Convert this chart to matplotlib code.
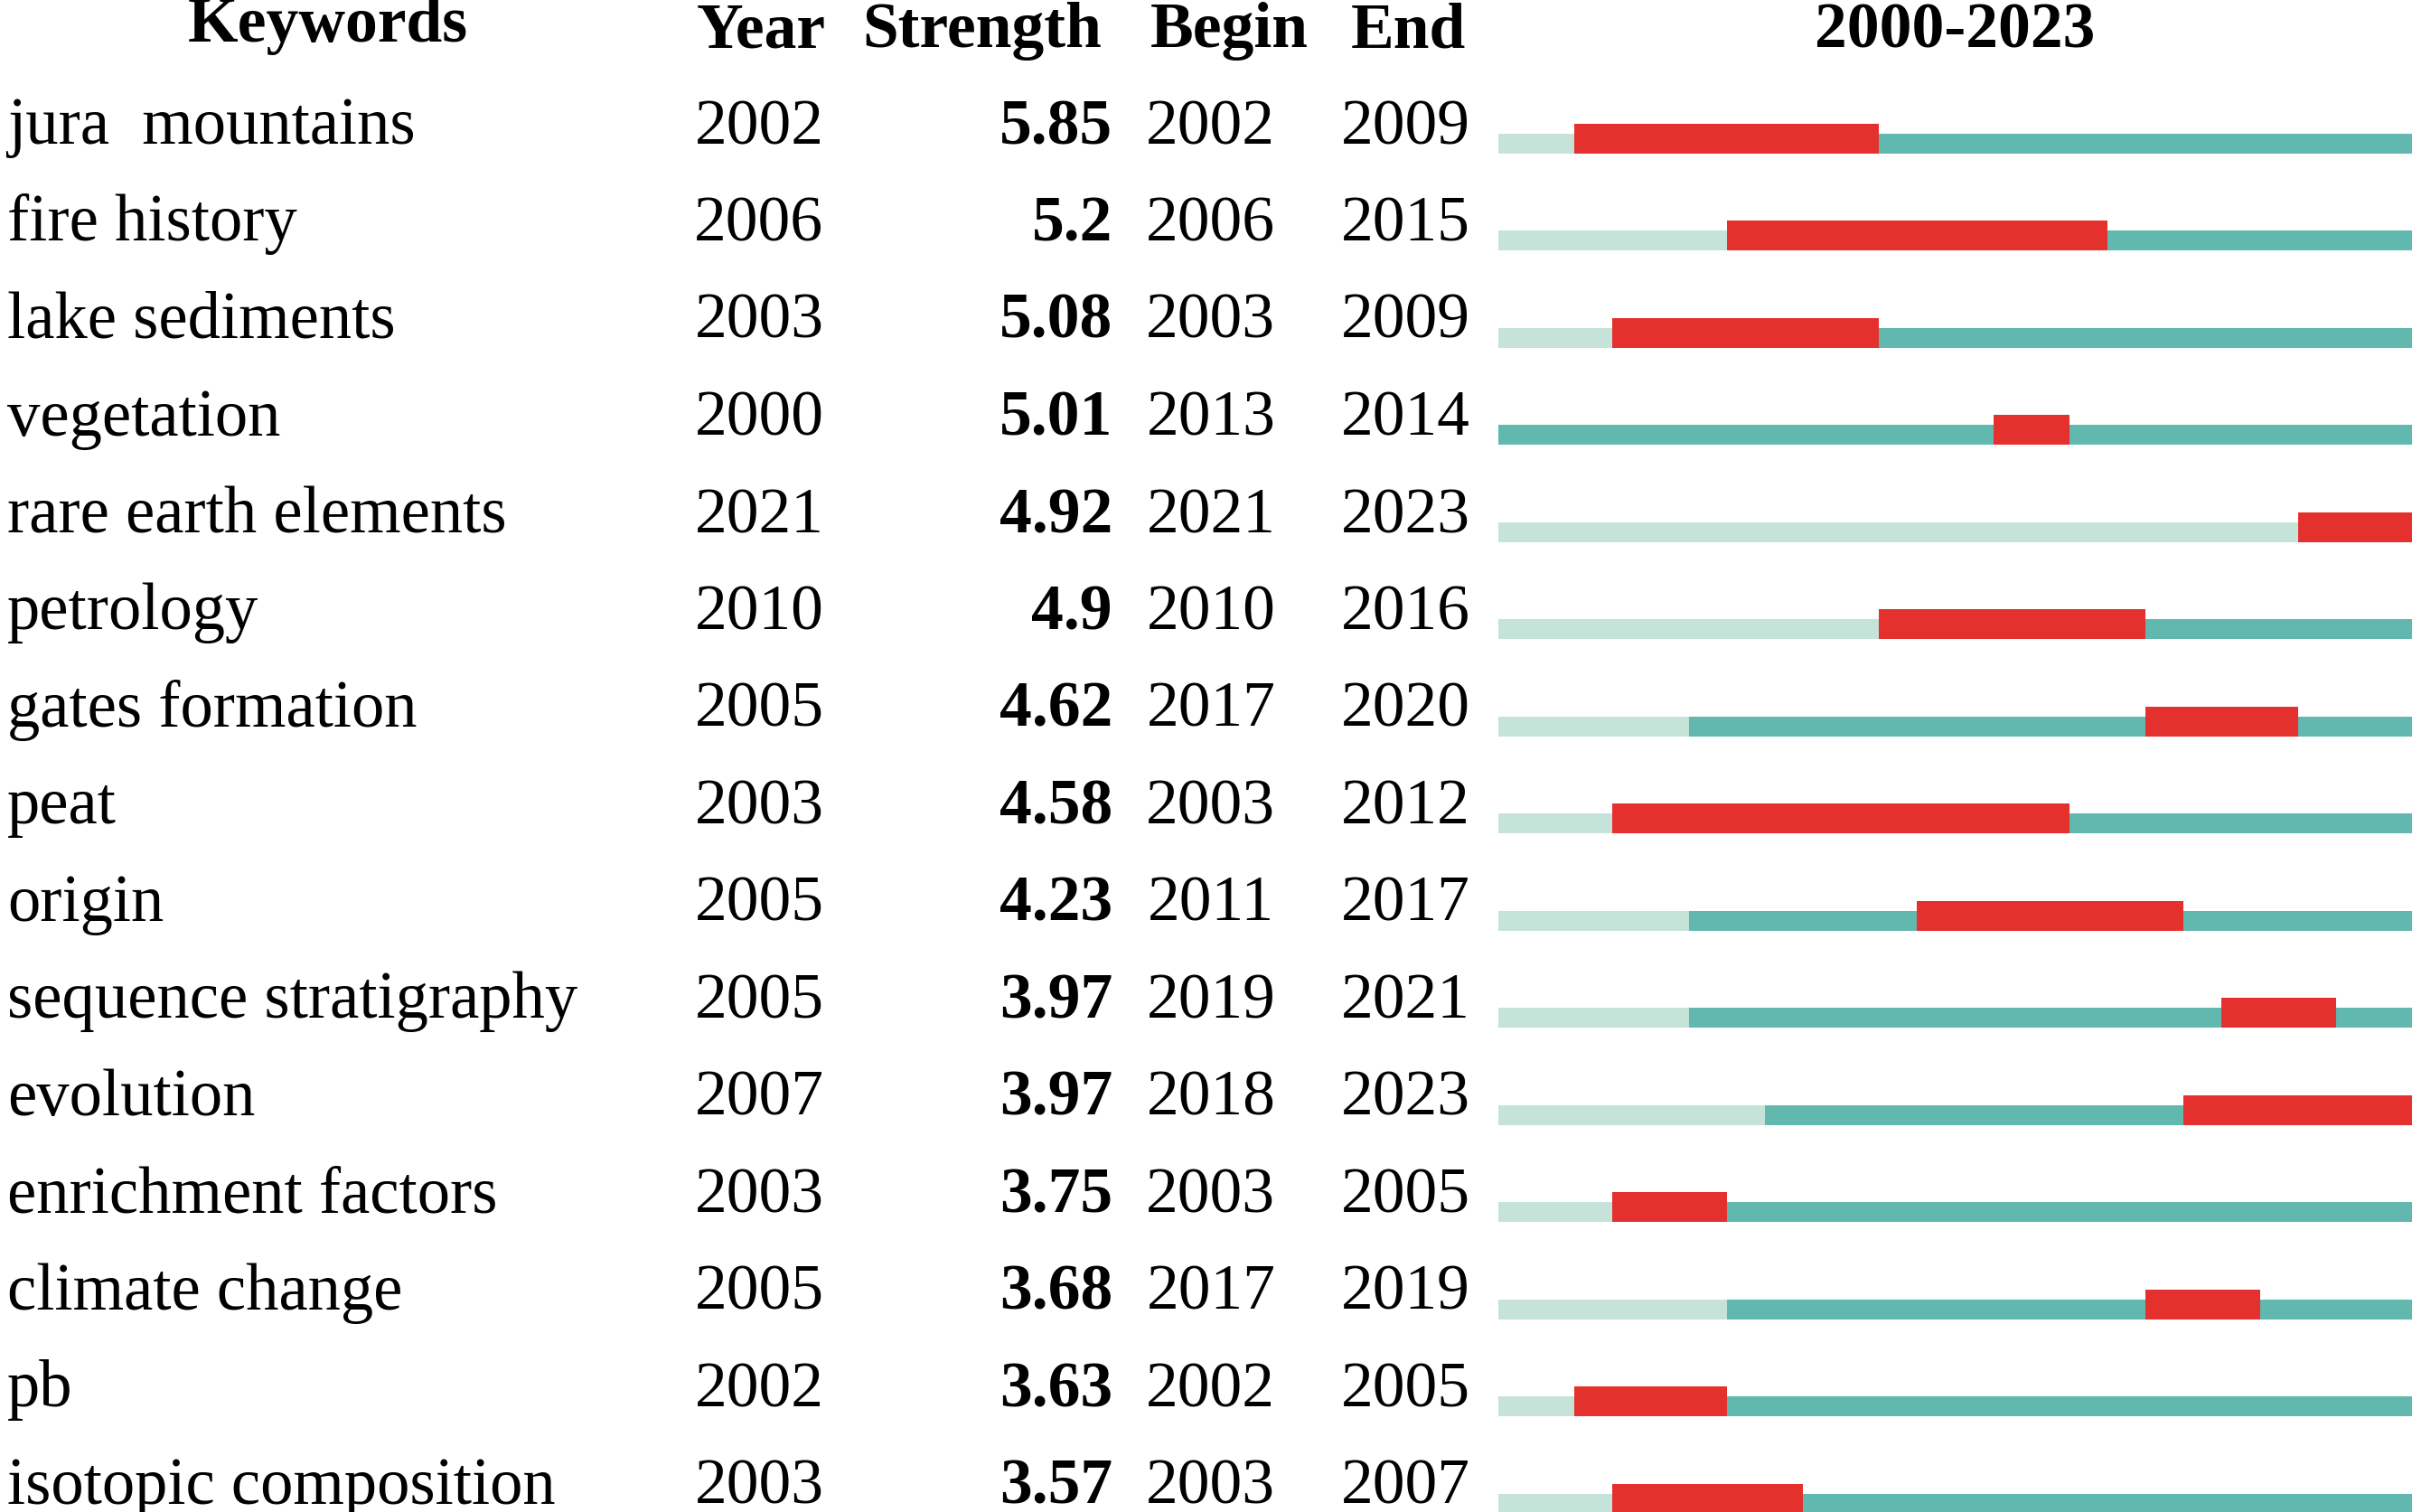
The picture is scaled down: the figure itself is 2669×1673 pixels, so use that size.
import matplotlib
matplotlib.use("Agg")
import matplotlib.pyplot as plt

keywords = ["jura  mountains", "fire history", "lake sediments", "vegetation",
            "rare earth elements", "petrology", "gates formation", "peat", "origin",
            "sequence stratigraphy", "evolution", "enrichment factors",
            "climate change", "pb", "isotopic composition"]
years = [2002, 2006, 2003, 2000, 2021, 2010, 2005, 2003, 2005, 2005, 2007, 2003, 2005, 2002, 2003]
strength = [5.85, 5.2, 5.08, 5.01, 4.92, 4.9, 4.62, 4.58, 4.23, 3.97, 3.97, 3.75, 3.68, 3.63, 3.57]
begins = [2002, 2006, 2003, 2013, 2021, 2010, 2017, 2003, 2011, 2019, 2018, 2003, 2017, 2002, 2003]
ends = [2009, 2015, 2009, 2014, 2023, 2016, 2020, 2012, 2017, 2021, 2023, 2005, 2019, 2005, 2007]
# years at which the drawn bars change colour
# (two bars differ from the printed labels: "peat" red runs to 2014,
#  "climate change" light part runs to 2006)
bar_years = [2002, 2006, 2003, 2000, 2021, 2010, 2005, 2003, 2005, 2005, 2007, 2003, 2006, 2002, 2003]
bar_ends = [2009, 2015, 2009, 2014, 2023, 2016, 2020, 2014, 2017, 2021, 2023, 2005, 2019, 2005, 2007]
headers = ["Keywords", "Year", "Strength", "Begin", "End"]
period_start, period_end = 2000, 2023

LIGHT = "#c5e3d9"
TEAL = "#61b8ae"
RED = "#e5312d"
FONT = "Liberation Serif"
FS = 51.5
FS_KW = 52.3

W, H = 2669, 1673
fig = plt.figure(figsize=(W / 100, H / 100), dpi=100)
fig.patch.set_facecolor("white")

base0, step = 159, 107.5
ylim = ((H - base0) / step, -base0 / step)

ax = fig.add_axes([0, 0, 1, 1])
ax.set_xlim(0, 1)
ax.set_ylim(*ylim)
ax.axis("off")
tr = ax.get_yaxis_transform()

bar_left = 1658 / W
axb = fig.add_axes([bar_left, 0, 1 - bar_left, 1])
axb.set_xlim(period_start, period_end + 1)
axb.set_ylim(*ylim)
axb.axis("off")

# headers
ax.text(0.136, -1.05, headers[0], transform=tr, ha="center", va="baseline",
        fontsize=FS, fontweight="bold", family=FONT)
hx = [0.3155, 0.4072, 0.5095, 0.584]
for x, h in zip(hx, headers[1:]):
    ax.text(x, -0.995, h, transform=tr, ha="center", va="baseline",
            fontsize=FS, fontweight="bold", family=FONT)
axb.text(0.5, -0.995, f"{period_start}-{period_end}", transform=axb.get_yaxis_transform(),
         ha="center", va="baseline", fontsize=FS, fontweight="bold", family=FONT)

off = 0.1
h_thin = 0.205
h_thick = 0.307
for i, (kw, yr, st, b, e, by, be) in enumerate(zip(keywords, years, strength, begins, ends,
                                                   bar_years, bar_ends)):
    ax.text(0.003, i, kw, transform=tr, ha="left", va="baseline", fontsize=FS_KW, family=FONT)
    ax.text(0.3147, i, str(yr), transform=tr, ha="center", va="baseline", fontsize=FS, family=FONT)
    ax.text(0.4612, i, f"{st:g}", transform=tr, ha="right", va="baseline", fontsize=FS,
            fontweight="bold", family=FONT)
    ax.text(0.502, i, str(b), transform=tr, ha="center", va="baseline", fontsize=FS, family=FONT)
    ax.text(0.5826, i, str(e), transform=tr, ha="center", va="baseline", fontsize=FS, family=FONT)

    yb = i + off
    if by > period_start:
        axb.barh(yb, by - period_start, left=period_start, height=-h_thin, align="edge",
                 color=LIGHT, linewidth=0)
    axb.barh(yb, period_end + 1 - by, left=by, height=-h_thin, align="edge",
             color=TEAL, linewidth=0)
    axb.barh(yb, be + 1 - b, left=b, height=-h_thick, align="edge",
             color=RED, linewidth=0, zorder=3)

fig.savefig("out.png", dpi=100, facecolor="white")
